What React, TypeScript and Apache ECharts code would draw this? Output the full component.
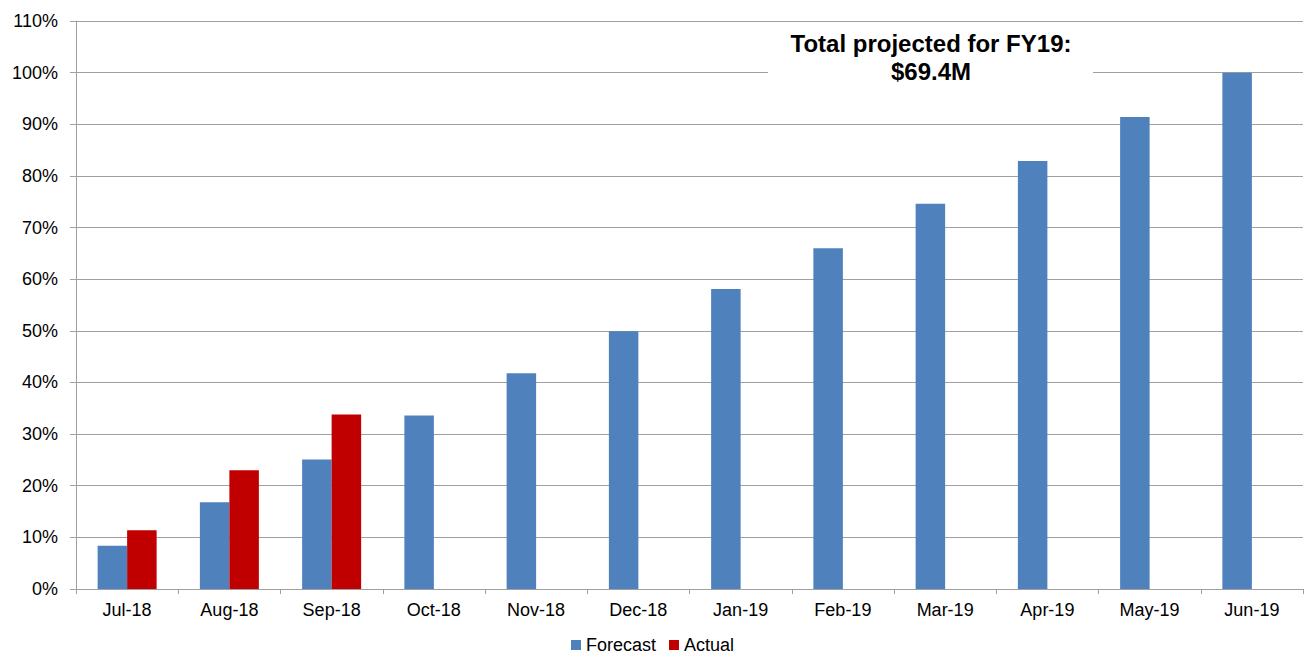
import React, { useEffect, useRef } from "react";
import * as echarts from "echarts";

const categories = ["Jul-18", "Aug-18", "Sep-18", "Oct-18", "Nov-18", "Dec-18", "Jan-19", "Feb-19", "Mar-19", "Apr-19", "May-19", "Jun-19"];
const forecast = [8.4, 16.8, 25.1, 33.6, 41.8, 49.9, 58.1, 66.0, 74.6, 82.9, 91.4, 100.0];
const actual = [11.4, 23.0, 33.8, null, null, null, null, null, null, null, null, null];
const titleLines = ["Total projected for FY19:", "$69.4M"];

export default function App() {
  const ref = useRef<HTMLDivElement>(null);
  useEffect(() => {
    if (!ref.current) return;
    const chart = echarts.init(ref.current, null, { renderer: "svg" });
    const font = "Arial, 'Liberation Sans', sans-serif";
    chart.setOption({
      animation: false,
      textStyle: { fontFamily: font },
      grid: { left: 76, right: 2, top: 21, bottom: 65, containLabel: false },
      legend: {
        data: ["Forecast", "Actual"],
        top: 636,
        left: "center",
        padding: 0,
        itemWidth: 10,
        itemHeight: 10,
        itemGap: 13,
        icon: "rect",
        textStyle: { fontSize: 18, color: "#000", fontFamily: font },
      },
      xAxis: {
        type: "category",
        data: categories,
        axisLine: { lineStyle: { color: "#A0A0A0", width: 1 } },
        axisTick: { show: true, length: 5, lineStyle: { color: "#A0A0A0" } },
        axisLabel: { fontSize: 18, color: "#000", margin: 12, fontFamily: font },
      },
      yAxis: {
        type: "value",
        min: 0,
        max: 110,
        interval: 10,
        axisLine: { show: true, lineStyle: { color: "#A0A0A0", width: 1 } },
        axisTick: { show: true, length: 6, lineStyle: { color: "#A0A0A0" } },
        axisLabel: { fontSize: 18, color: "#000", margin: 18, formatter: "{value}%", fontFamily: font },
        splitLine: { show: true, lineStyle: { color: "#A0A0A0", width: 1 } },
      },
      series: [
        {
          name: "Forecast",
          type: "bar",
          data: forecast,
          barWidth: 29.5,
          barGap: "0%",
          itemStyle: { color: "#4F81BD" },
        },
        {
          name: "Actual",
          type: "bar",
          data: actual,
          barWidth: 29.5,
          barGap: "0%",
          itemStyle: { color: "#C00000" },
        },
      ],
      graphic: [
        {
          type: "rect",
          shape: { x: 768, y: 28, width: 325, height: 58 },
          style: { fill: "#fff" },
          z: 10,
        },
        {
          type: "text",
          x: 931,
          y: 43,
          z: 11,
          style: {
            text: titleLines[0],
            fontSize: 24,
            fontWeight: "bold",
            fontFamily: font,
            fill: "#000",
            align: "center",
            verticalAlign: "middle",
          },
        },
        {
          type: "text",
          x: 931,
          y: 71,
          z: 11,
          style: {
            text: titleLines[1],
            fontSize: 24,
            fontWeight: "bold",
            fontFamily: font,
            fill: "#000",
            align: "center",
            verticalAlign: "middle",
          },
        },
      ],
    });
    return () => chart.dispose();
  }, []);
  return <div ref={ref} style={{ width: 1305, height: 654, position: "absolute", left: 0, top: 0 }} />;
}
